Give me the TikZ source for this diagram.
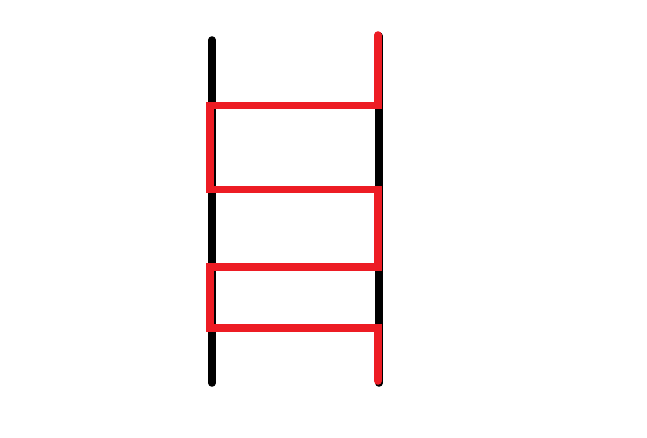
\documentclass[tikz,border=0pt]{standalone}
\usepackage{tikz}
\definecolor{paintred}{RGB}{237,28,36}

\begin{document}
\begin{tikzpicture}[
    x=1pt, y=-1pt,
    rail/.style={draw=black, line width=7.5pt, line cap=round},
    zigzag/.style={draw=paintred, line width=7.5pt, line cap=round, line join=miter}
]
    \useasboundingbox (0,0) rectangle (647,438);

    % the two rails
    \coordinate (lt) at (212,40);
    \coordinate (lb) at (212,383);
    \coordinate (rt) at (379,36);
    \coordinate (rb) at (379,383);
    \draw[rail] (lt) -- (lb);
    \draw[rail] (rt) -- (rb);

    % the red path, zigzagging between the rails
    \draw[zigzag] (378,35) -- (378,105.5) -- (210,105.5) -- (210,189.5)
        -- (378,189.5) -- (378,267) -- (210,267) -- (210,328)
        -- (378,328) -- (378,381);
\end{tikzpicture}
\end{document}
